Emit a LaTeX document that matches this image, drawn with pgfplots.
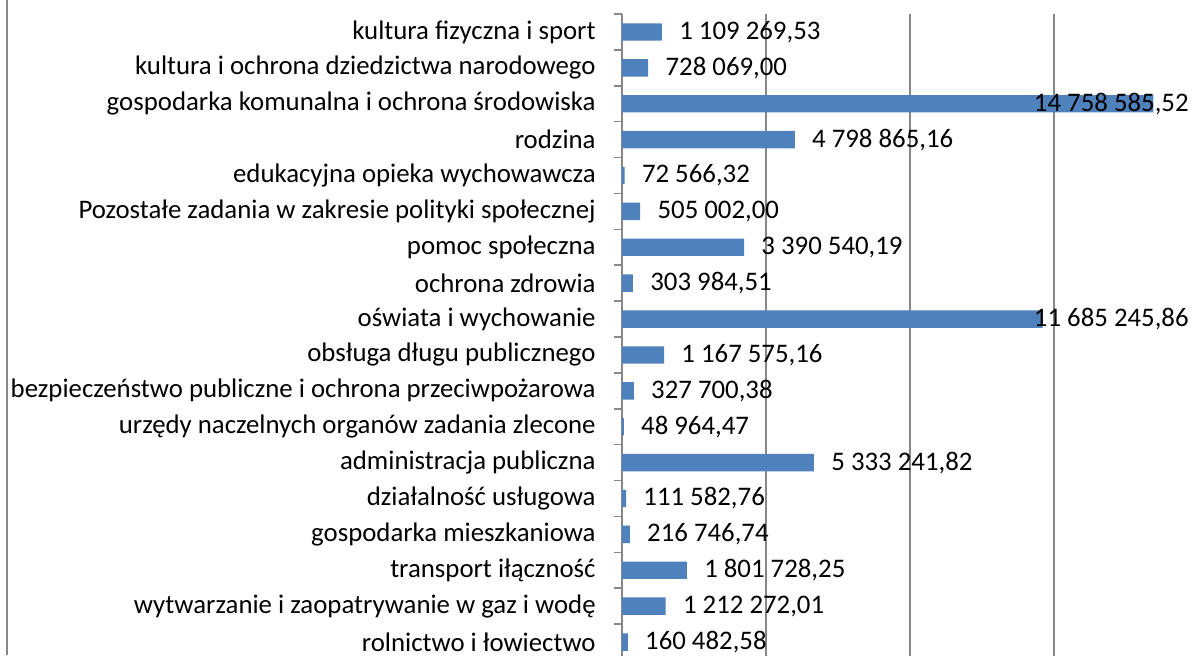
\documentclass[border=0pt]{standalone}
\usepackage{pgfplots}
\usepackage{pgfplotstable}
\pgfplotsset{compat=1.18}
\usepackage{fontspec}
\setmainfont{Carlito}
\definecolor{barblue}{HTML}{4F81BD}
\definecolor{gridgray}{HTML}{878787}

\pgfplotstableread[col sep=semicolon, row sep=\\]{
i;v;lab\\
0;1109269.53;1 109 269,53\\
1;728069.00;728 069,00\\
3;4798865.16;4 798 865,16\\
4;72566.32;72 566,32\\
5;505002.00;505 002,00\\
6;3390540.19;3 390 540,19\\
7;303984.51;303 984,51\\
9;1167575.16;1 167 575,16\\
10;327700.38;327 700,38\\
11;48964.47;48 964,47\\
12;5333241.82;5 333 241,82\\
13;111582.76;111 582,76\\
14;216746.74;216 746,74\\
15;1801728.25;1 801 728,25\\
16;1212272.01;1 212 272,01\\
17;160482.58;160 482,58\\
}\datasmall

\pgfplotstableread[col sep=semicolon, row sep=\\]{
i;v;lab;pos\\
2;14758585.52;14 758 585,52;15750000\\
8;11685245.86;11 685 245,86;15750000\\
}\databig

\begin{document}
\begin{tikzpicture}
\draw[gridgray, line width=0.75pt] (3.6pt,0) -- (3.6pt,327.5pt);
\begin{axis}[
  at={(311pt,320.5pt)}, anchor=north west,
  scale only axis,
  width=288pt, height=323pt,
  xmin=0, xmax=16000000,
  ymin=-0.5, ymax=17.5,
  y dir=reverse,
  axis lines*=left,
  axis line style={gridgray, line width=0.75pt},
  xtick={4000000,8000000,12000000,16000000},
  xticklabels={},
  scaled x ticks=false,
  xmajorgrids,
  major grid style={gridgray, line width=0.75pt},
  x tick style={draw=none},
  ytick={0,...,17},
  yticklabels={
    kultura fizyczna i sport,
    kultura i ochrona dziedzictwa narodowego,
    gospodarka komunalna i ochrona środowiska,
    rodzina,
    edukacyjna opieka wychowawcza,
    Pozostałe zadania w zakresie polityki społecznej,
    pomoc społeczna,
    ochrona zdrowia,
    oświata i wychowanie,
    obsługa długu publicznego,
    bezpieczeństwo publiczne i ochrona przeciwpożarowa,
    urzędy naczelnych organów zadania zlecone,
    administracja publiczna,
    działalność usługowa,
    gospodarka mieszkaniowa,
    transport iłączność,
    wytwarzanie i zaopatrywanie w gaz i wodę,
    rolnictwo i łowiectwo},
  minor ytick={-0.5,0.5,...,17.5},
  major tick length=0pt,
  minor tick length=4pt,
  tick align=outside,
  y tick style={gridgray, line width=0.75pt},
  yticklabel style={font=\fontsize{13.4}{15}\selectfont, anchor=east, inner sep=0pt, xshift=-13pt},
  xbar, bar width=8.7pt, bar shift=0pt,
  clip=false,
]
\addplot[fill=barblue, draw=none, nodes near coords, point meta=explicit symbolic,
  nodes near coords style={font=\fontsize{13.4}{15}\selectfont, anchor=west, inner sep=0pt, xshift=8.5pt, black}]
  table[x=v, y=i, meta=lab] {\datasmall};
\addplot[fill=barblue, draw=none] table[x=v, y=i] {\databig};
\addplot[draw=none, mark=none, xbar=0pt, bar width=0pt, nodes near coords, point meta=explicit symbolic,
  nodes near coords style={font=\fontsize{13.4}{15}\selectfont, anchor=east, inner sep=0pt, black}]
  table[x=pos, y=i, meta=lab] {\databig};
\end{axis}
\pgfresetboundingbox
\useasboundingbox (0,0) rectangle (597pt,327.5pt);
\end{tikzpicture}
\end{document}
